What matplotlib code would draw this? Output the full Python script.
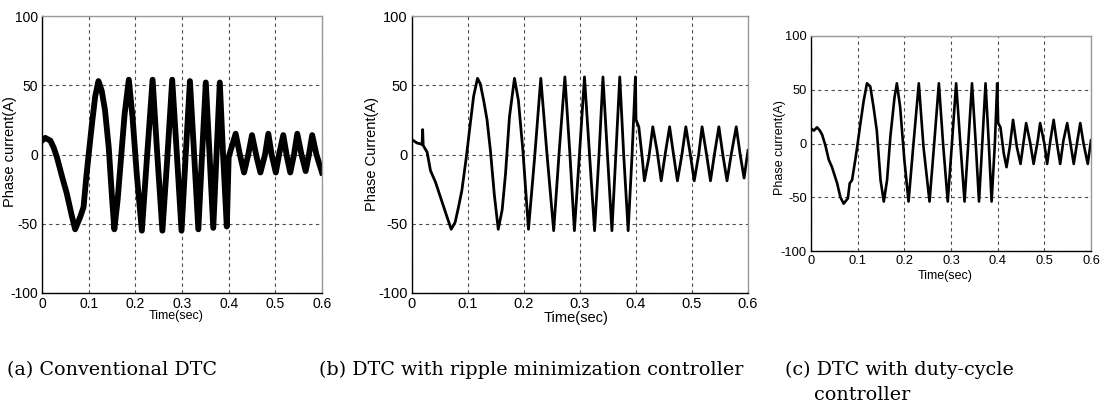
import matplotlib
matplotlib.use("Agg")
import matplotlib.pyplot as plt

# ---------------- data ----------------
t_a = [0, 0.007, 0.018, 0.025, 0.032, 0.043, 0.053, 0.063, 0.071, 0.082, 0.089, 0.095, 0.100, 0.107, 0.114,
       0.121, 0.128, 0.135, 0.143, 0.150, 0.155, 0.162, 0.169, 0.177, 0.186, 0.194, 0.203, 0.214, 0.225, 0.237,
       0.247, 0.258, 0.269, 0.279, 0.289, 0.299, 0.308, 0.317, 0.326, 0.335, 0.343, 0.351, 0.359, 0.367, 0.374,
       0.381, 0.388, 0.396, 0.400, 0.406, 0.415, 0.424, 0.433, 0.442, 0.450, 0.460, 0.468, 0.478, 0.485, 0.492,
       0.501, 0.508, 0.517, 0.525, 0.532, 0.540, 0.547, 0.556, 0.565, 0.572, 0.579, 0.588, 0.600]
i_a = [10, 12, 10, 5, -2, -16, -28, -43, -54, -45, -38, -16, 0, 22, 42,
       53, 46, 32, 5, -31, -54, -33, -4, 29, 54, 27, -14, -55, -2, 54,
       0, -55, 0, 54, 0, -55, 0, 53, 0, -54, 0, 52, 0, -53, 0,
       52, 0, -52, -2, 5, 15, 0, -13, 0, 14, -2, -13, 0, 15, 0,
       -13, 0, 14, -2, -13, 0, 15, 0, -12, 0, 14, 0, -13]

t_b = [0, 0.009, 0.018, 0.019, 0.020, 0.027, 0.033, 0.042, 0.051, 0.060, 0.070, 0.077, 0.083, 0.089, 0.097,
       0.104, 0.110, 0.117, 0.122, 0.128, 0.134, 0.140, 0.147, 0.154, 0.161, 0.167, 0.174, 0.183, 0.190, 0.198,
       0.208, 0.219, 0.230, 0.241, 0.253, 0.263, 0.273, 0.282, 0.290, 0.299, 0.308, 0.317, 0.326, 0.334, 0.341,
       0.349, 0.357, 0.364, 0.371, 0.378, 0.386, 0.393, 0.399, 0.400, 0.405, 0.411, 0.415, 0.423, 0.430, 0.4375,
       0.445, 0.452, 0.460, 0.467, 0.474, 0.482, 0.489, 0.497, 0.504, 0.512, 0.518, 0.526, 0.533, 0.540, 0.548,
       0.555, 0.5625, 0.570, 0.579, 0.586, 0.593, 0.600]
i_b = [10.7, 8.3, 7.3, 18, 6.5, 1.7, -11.6, -20, -31, -42, -54, -49, -38, -26, -2,
       22, 42, 55, 51, 39, 25, 3, -29, -54, -40, -14, 27, 55, 39, 3,
       -54, -2, 55, 0.5, -55, 3, 56, 0, -55, 0, 56, 0, -55, 0, 56,
       0, -55, 0, 56, 0, -55, 0, 56, 25, 20, -2, -19, -2, 20, 3,
       -19, 0, 20, 0, -19, 0, 20, 0, -19, 0, 20, 0, -19, 0, 20,
       0, -19, 0, 20, 0, -17, 3]

t_c = [0, 0.006, 0.013, 0.019, 0.024, 0.031, 0.038, 0.045, 0.056, 0.063, 0.070, 0.079, 0.083, 0.088, 0.095,
       0.100, 0.106, 0.113, 0.120, 0.127, 0.134, 0.141, 0.149, 0.156, 0.163, 0.170, 0.179, 0.184, 0.191, 0.200,
       0.209, 0.219, 0.231, 0.241, 0.254, 0.264, 0.274, 0.283, 0.293, 0.302, 0.311, 0.320, 0.329, 0.337, 0.345,
       0.353, 0.360, 0.367, 0.374, 0.381, 0.387, 0.394, 0.399, 0.401, 0.406, 0.413, 0.419, 0.426, 0.433, 0.441,
       0.449, 0.456, 0.461, 0.470, 0.477, 0.486, 0.491, 0.500, 0.506, 0.513, 0.520, 0.527, 0.534, 0.541, 0.549,
       0.556, 0.563, 0.571, 0.577, 0.584, 0.593, 0.600]
i_c = [14, 12, 15, 12, 8, -2, -15, -22, -37, -50, -56, -51, -37, -34, -15,
       0, 19, 40, 56, 53, 34, 12, -34, -54, -34, 6, 43, 56, 34, -15,
       -54, -3, 56, -3, -54, 0, 56, 0, -54, 0, 56, 0, -54, 0, 56,
       0, -54, 0, 56, 0, -54, 0, 56, 19, 15, -9, -22, -3, 22, -3,
       -19, 3, 19, 0, -19, 3, 19, 0, -19, 3, 22, 0, -19, 3, 19,
       0, -19, 3, 19, 0, -19, 3]

x_ticks = [0, 0.1, 0.2, 0.3, 0.4, 0.5, 0.6]
x_tick_labels = ["0", "0.1", "0.2", "0.3", "0.4", "0.5", "0.6"]
y_ticks = [-100, -50, 0, 50, 100]
y_tick_labels = ["-100", "-50", "0", "50", "100"]

ylabels = ["Phase current(A)", "Phase Current(A)", "Phase current(A)"]
xlabel = "Time(sec)"
captions = ["(a) Conventional DTC", "(b) DTC with ripple minimization controller",
            "(c) DTC with duty-cycle", "controller"]

# ---------------- figure ----------------
W, H = 1101, 408
fig = plt.figure(figsize=(W / 100, H / 100), dpi=100)
fig.patch.set_facecolor("white")
SANS = ["Liberation Sans", "DejaVu Sans"]


def px_axes(l, t, r, b):
    return fig.add_axes([l / W, (H - b) / H, (r - l) / W, (b - t) / H])


def style(ax, tsize):
    ax.set_xlim(0, 0.6)
    ax.set_ylim(-100, 100)
    ax.set_xticks(x_ticks)
    ax.set_xticklabels(x_tick_labels, fontsize=tsize, family=SANS)
    ax.set_yticks(y_ticks)
    ax.set_yticklabels(y_tick_labels, fontsize=tsize, family=SANS)
    ax.tick_params(length=0, pad=3)
    ax.grid(True, color="0.3", linestyle=(0, (3, 3)), linewidth=0.8)
    ax.spines["left"].set_color("black")
    ax.spines["bottom"].set_color("black")
    ax.spines["top"].set_color("0.6")
    ax.spines["right"].set_color("0.6")
    for s in ax.spines.values():
        s.set_linewidth(1.0)


panels = [
    ((42, 16, 322, 293), t_a, i_a, 4.2, 10),
    ((412, 16, 748, 293), t_b, i_b, 2.0, 10.5),
    ((811, 36, 1091, 251), t_c, i_c, 1.9, 9.3),
]
for (box, t, i, lw, ts) in panels:
    ax = px_axes(*box)
    style(ax, ts)
    ax.plot(t, i, color="black", linewidth=lw, solid_joinstyle="round")


def ftext(x, y, s, **kw):
    fig.text(x / W, (H - y) / H, s, **kw)


# y labels
ftext(10, 152, ylabels[0], rotation=90, ha="center", va="center", fontsize=10.5, family=SANS)
ftext(372, 154, ylabels[1], rotation=90, ha="center", va="center", fontsize=10.5, family=SANS)
ftext(780, 148, ylabels[2], rotation=90, ha="center", va="center", fontsize=9, family=SANS)
# x labels
ftext(176, 316, xlabel, ha="center", va="center", fontsize=9, family=SANS)
ftext(576, 318, xlabel, ha="center", va="center", fontsize=10.5, family=SANS)
ftext(945, 276, xlabel, ha="center", va="center", fontsize=9, family=SANS)

# captions
CAP = ["DejaVu Serif"]
CS = 13.8
ftext(7, 375, captions[0], ha="left", va="baseline", fontsize=CS, family=CAP)
ftext(319, 375, captions[1], ha="left", va="baseline", fontsize=CS, family=CAP)
ftext(785, 375, captions[2], ha="left", va="baseline", fontsize=CS, family=CAP)
ftext(814, 400, captions[3], ha="left", va="baseline", fontsize=CS, family=CAP)

fig.savefig("out.png", dpi=100, facecolor="white")
